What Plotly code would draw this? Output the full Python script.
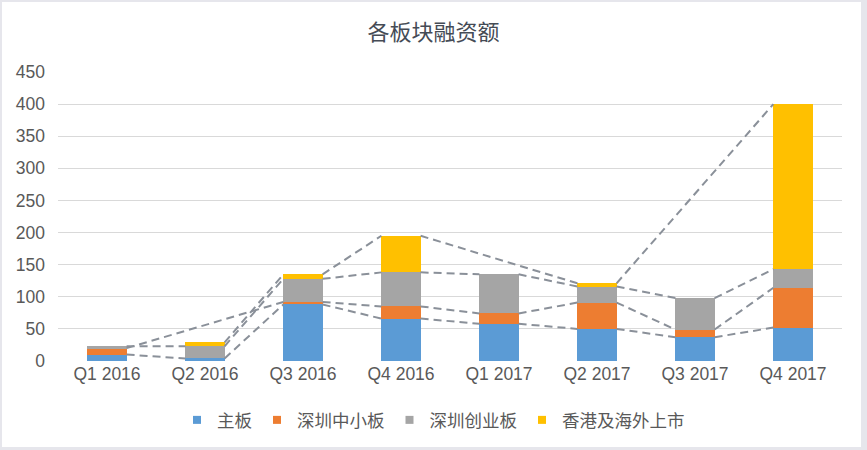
import plotly.graph_objects as go

quarters = ["Q1 2016", "Q2 2016", "Q3 2016", "Q4 2016", "Q1 2017", "Q2 2017", "Q3 2017", "Q4 2017"]
series_names = ["主板", "深圳中小板", "深圳创业板", "香港及海外上市"]
main_board = [10, 4, 88, 66, 58, 50, 37, 52]
sme_board = [10, None, 4, 19, 16, 41, 12, 62]
chinext_board = [3, 19, 36, 53, 61, 25, 49, 29]
hk_overseas = [None, 6, 7, 57, None, 5, None, 257]
y_ticks = [0, 50, 100, 150, 200, 250, 300, 350, 400, 450]

colors = ["#5B9BD5", "#ED7D31", "#A5A5A5", "#FFC000"]
series = [main_board, sme_board, chinext_board, hk_overseas]
xs = list(range(len(quarters)))
BAR_W = 0.4

FONT = "Liberation Sans, Noto Sans CJK SC, sans-serif"
TXT = "#595959"

fig = go.Figure()

for name, vals, col in zip(series_names, series, colors):
    fig.add_trace(go.Bar(
        x=xs, y=[v if v is not None else 0 for v in vals], name=name,
        width=BAR_W, marker=dict(color=col, line=dict(width=0)),
        showlegend=False, hoverinfo="skip"))

# series lines (connect cumulative tops between bar edges, skipping empty points)
cum = [0] * len(xs)
for vals in series:
    tops = []
    for i, v in enumerate(vals):
        if v is not None:
            cum[i] += v
            tops.append((i, cum[i]))
    lx, ly = [], []
    for (i, a), (j, b) in zip(tops[:-1], tops[1:]):
        lx += [i + BAR_W / 2, j - BAR_W / 2, None]
        ly += [a, b, None]
    fig.add_trace(go.Scatter(x=lx, y=ly, mode="lines", showlegend=False,
                             hoverinfo="skip",
                             line=dict(color="#8A9099", width=2, dash="8px,5px")))

# legend entries
for name, col in zip(series_names, colors):
    fig.add_trace(go.Scatter(x=[None], y=[None], mode="markers", name=name,
                             marker=dict(symbol="square", size=8, color=col)))

fig.update_layout(
    width=867, height=450,
    barmode="stack",
    paper_bgcolor="#E6E6EC",
    plot_bgcolor="white",
    margin=dict(l=58, r=25, t=72, b=89),
    font=dict(family=FONT, color=TXT, size=17.5),
    title=dict(text="各板块融资额", x=0.5, xanchor="center", xref="container",
               y=1 - 32 / 450, yanchor="middle", yref="container",
               font=dict(family="Noto Sans CJK SC, sans-serif", size=22, color="#454B55")),
    legend=dict(orientation="h", x=0.5, xanchor="center", xref="container",
                y=1 - 420 / 450, yanchor="middle", yref="container",
                traceorder="normal",
                font=dict(family="Noto Sans CJK SC, sans-serif", size=17.5, color=TXT),
                itemwidth=30, bgcolor="rgba(0,0,0,0)"),
    xaxis=dict(range=[-0.5, len(xs) - 0.5], tickvals=xs, ticktext=quarters,
               showgrid=False, zeroline=False, showline=False, ticks="",
               tickfont=dict(size=17.5, color=TXT)),
    yaxis=dict(range=[0, 450], tickvals=y_ticks, showgrid=True, gridcolor="#D9D9D9",
               gridwidth=1, zeroline=False, showline=False, ticks="",
               tickfont=dict(size=17.5, color=TXT), ticklabelstandoff=12),
    shapes=[dict(type="rect", xref="paper", yref="paper", layer="below",
                 x0=-56 / 784, x1=803 / 784, y0=-86 / 289, y1=359 / 289,
                 fillcolor="white", line=dict(width=0))],
)

fig.write_html("out.html", config={"displayModeBar": False},
               post_script="document.body.style.margin='0px';")
